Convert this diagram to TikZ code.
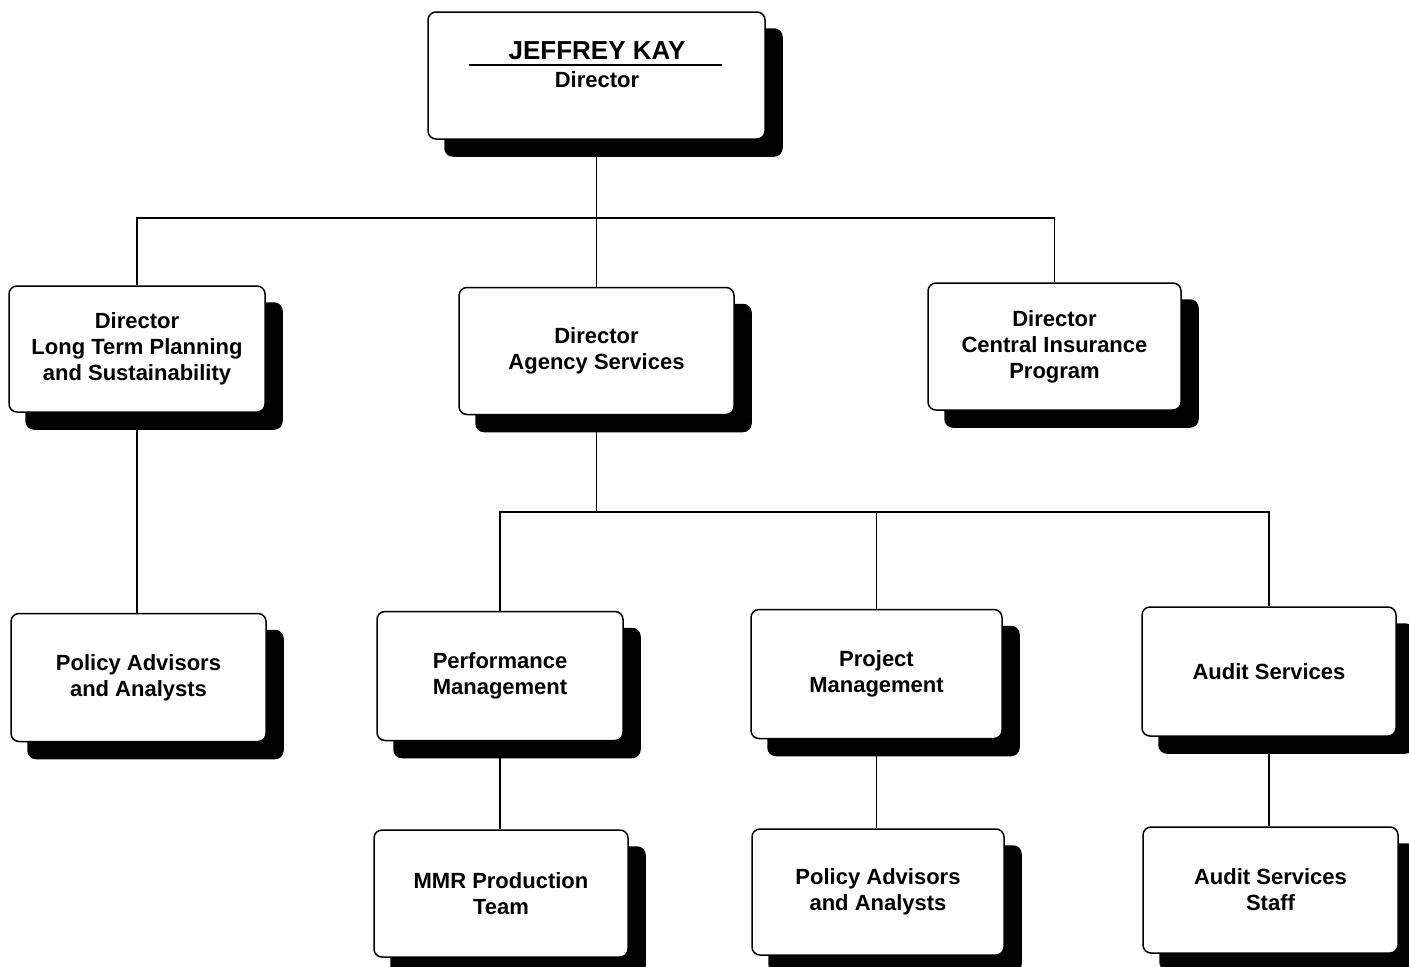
\documentclass[tikz,border=0pt]{standalone}
\usepackage{fontspec}
\setmainfont{Liberation Sans}
\usetikzlibrary{shadows}
\begin{document}
\begin{tikzpicture}[x=1pt,y=-1pt,
  orgbox/.style={draw, line width=1.5pt, rounded corners=8pt, fill=white, align=center,
    font=\bfseries\fontsize{22}{26}\selectfont,
    drop shadow={shadow xshift=17pt, shadow yshift=-17pt, opacity=1, fill=black, draw=black}},
  lbl/.style={font=\bfseries\fontsize{22}{26}\selectfont, inner sep=0pt},
  link/.style={line width=1.6pt}]
\clip (0,0) rectangle (1409,967);
\fill[white] (0,0) rectangle (1409,967);
% boxes
\node[orgbox, minimum width=337pt, minimum height=127pt] (top) at (596.5,75.5) {};
\node[lbl, font=\bfseries\fontsize{26}{30}\selectfont, anchor=base] (topname) at (597,59) {JEFFREY KAY};
\node[lbl, anchor=base] (toptitle) at (597,87) {Director};
\draw[line width=1.2pt] (469,65) -- (722,65);
\node[orgbox, minimum width=256pt, minimum height=126pt] (ltp) at (137,349) {Director\\Long Term Planning\\and Sustainability};
\node[orgbox, minimum width=275pt, minimum height=127pt] (agency) at (596.5,351) {Director\\Agency Services};
\node[orgbox, minimum width=253pt, minimum height=127pt] (cip) at (1054.5,346.5) {Director\\Central Insurance\\Program};
\node[orgbox, minimum width=255pt, minimum height=128pt] (pol1) at (138.5,677.5) {Policy Advisors\\and Analysts};
\node[orgbox, minimum width=246pt, minimum height=129pt] (perf) at (500,676) {Performance\\Management};
\node[orgbox, minimum width=251pt, minimum height=129pt] (proj) at (876.5,674) {Project\\Management};
\node[orgbox, minimum width=254pt, minimum height=129pt] (audit) at (1269,671.5) {Audit Services};
\node[orgbox, minimum width=254pt, minimum height=127pt] (mmr) at (501,893.5) {MMR Production\\Team};
\node[orgbox, minimum width=252pt, minimum height=126pt] (pol2) at (878,892) {Policy Advisors\\and Analysts};
\node[orgbox, minimum width=255pt, minimum height=126pt] (staff) at (1270.5,890) {Audit Services\\Staff};
% connectors
\coordinate (bus1) at (596.5,218);
\coordinate (bus2) at (596.5,512);
\draw[link] (top.south) -- (bus1) -- (agency.north);
\draw[link] (ltp.north) -- (ltp.north |- bus1) -- (cip.north |- bus1) -- (cip.north);
\draw[link] (ltp.south) -- (ltp.south |- pol1.north);
\draw[link] (agency.south) -- (bus2);
\draw[link] (perf.north) -- (perf.north |- bus2) -- (audit.north |- bus2) -- (audit.north);
\draw[link] (proj.north) -- (proj.north |- bus2);
\draw[link] (perf.south) -- (perf.south |- mmr.north);
\draw[link] (proj.south) -- (proj.south |- pol2.north);
\draw[link] (audit.south) -- (audit.south |- staff.north);
\end{tikzpicture}
\end{document}
